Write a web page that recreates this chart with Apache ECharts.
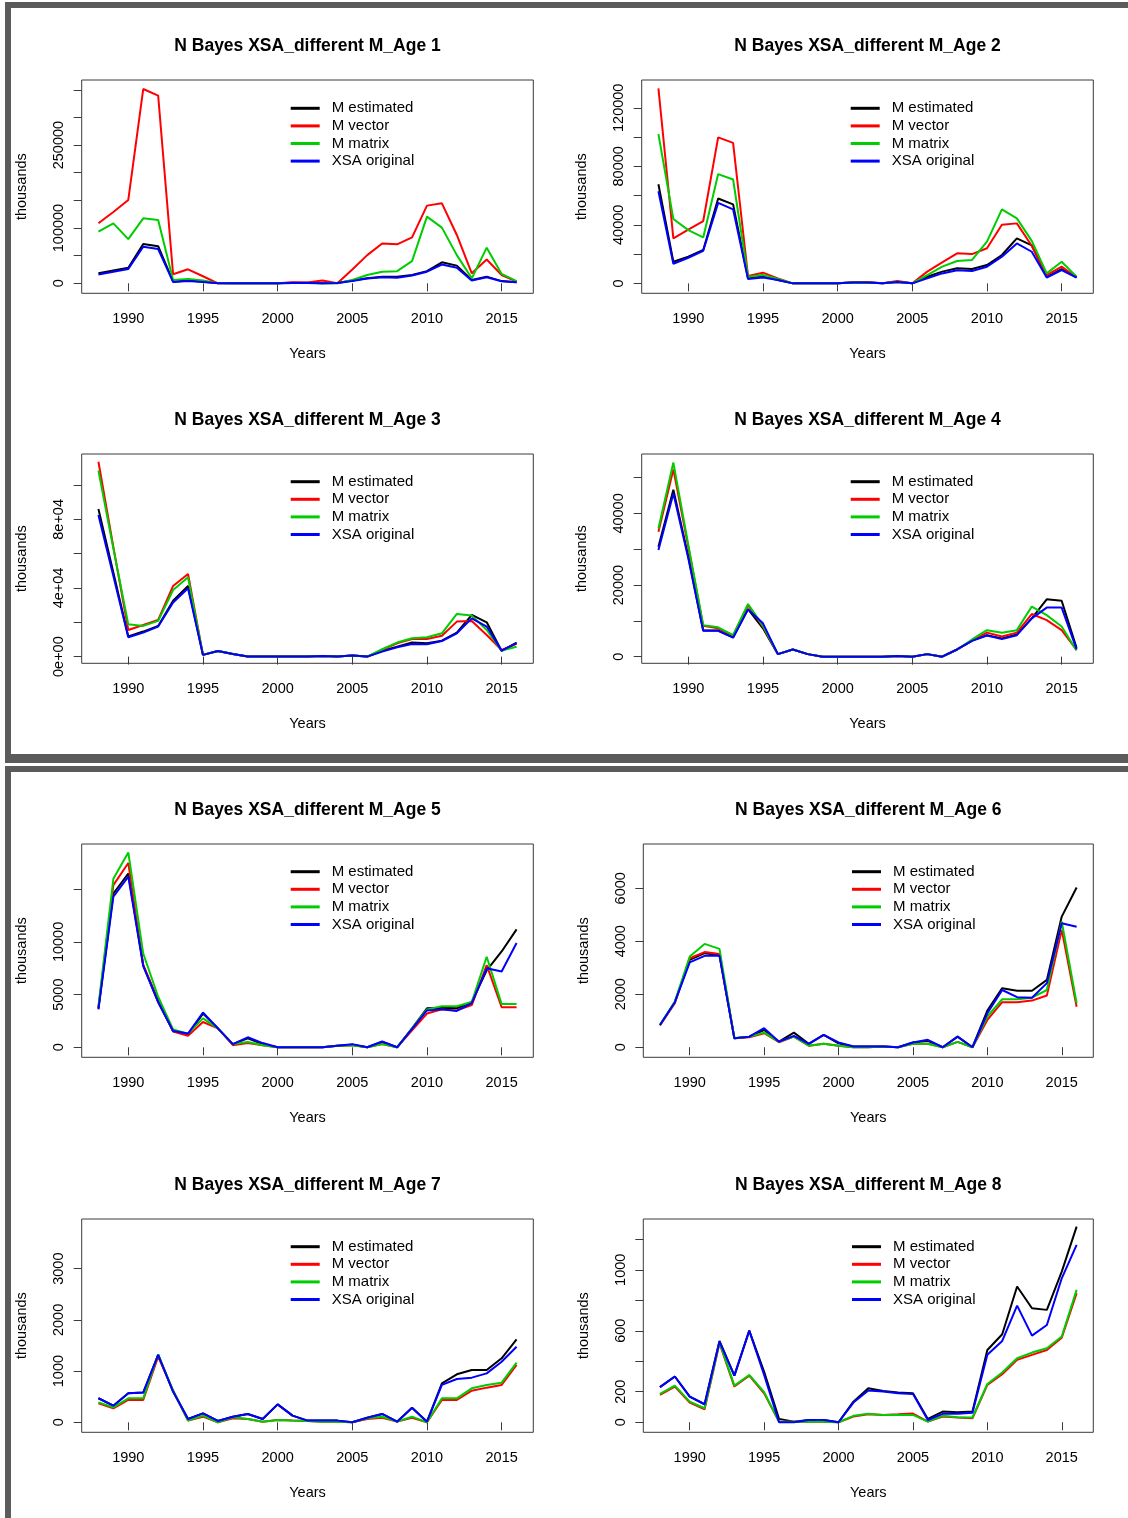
<!DOCTYPE html>
<html><head><meta charset="utf-8">
<script src="https://cdn.jsdelivr.net/npm/echarts@6/dist/echarts.min.js"></script>
<style>html,body{margin:0;padding:0;background:#fff}#c{width:1128px;height:1518px}</style>
</head><body><div id="c"></div>
<script>
const years = [1988,1989,1990,1991,1992,1993,1994,1995,1996,1997,1998,1999,2000,2001,2002,2003,2004,2005,2006,2007,2008,2009,2010,2011,2012,2013,2014,2015,2016];
const xTicks = [1990,1995,2000,2005,2010,2015];
const seriesNames = ['M estimated','M vector','M matrix','XSA original'];

// Age 1
const age1_est = [18000,23000,28000,71000,67000,3000,5000,3000,500,0,0,0,0,1000,1000,0,500,5000,9000,12000,12000,15000,22000,38000,32000,6000,12000,4000,2000];
const age1_vec = [108500,129000,150800,351500,339500,16300,25300,12700,0,0,0,0,0,1800,1500,5000,0,25000,51000,72000,70500,83000,140500,144700,87400,18000,43000,15000,3000];
const age1_mat = [93500,108500,80000,117600,114600,6000,8000,5000,0,0,0,0,0,500,500,0,0,6000,15000,21000,22000,40000,120600,100700,51000,9000,64500,17000,4000];
const age1_xsa = [16000,21000,26000,66000,62000,2500,4000,2500,0,0,0,0,0,500,500,0,500,4000,8500,11000,10000,14000,21000,34000,28000,5000,11000,3600,2000];
const age1_ticks = [0,50000,100000,150000,200000,250000,300000,350000];
const age1_labels = ['0','100000','250000'];
const age1_range = [-18100,367800];

// Age 2
const age2_est = [67700,14800,18200,22800,58000,54000,3400,4800,2300,0,0,0,0,500,500,0,1000,0,4500,8000,10300,9800,12500,19400,30800,26000,4500,9800,4000];
const age2_vec = [133300,30800,36700,42600,99800,96000,5000,7300,3400,0,0,0,0,700,1000,0,1600,0,8000,14300,20500,20000,24000,40000,41000,25700,5700,11400,4000];
const age2_mat = [102000,44000,36400,31400,74700,71000,4500,5700,3000,0,0,0,0,500,500,0,1000,0,5700,11400,15300,16000,28500,50600,44400,29000,6800,14800,4500];
const age2_xsa = [63000,13400,17500,22300,55000,50600,3000,4000,2300,0,0,0,0,500,500,0,1000,0,3400,6800,9000,8400,11400,18200,27300,21600,4000,9000,4000];
const age2_ticks = [0,20000,40000,60000,80000,100000,120000];
const age2_labels = ['0','40000','80000','120000'];
const age2_range = [-6800,139000];

// Age 3
const age3_est = [86000,49000,11700,14600,17900,32600,41200,1000,3300,1500,0,0,0,0,0,300,0,600,0,3300,5800,8200,7800,9300,14000,24300,20000,3300,8200];
const age3_vec = [113600,64000,15500,18400,21400,41200,48200,1000,3300,1500,0,0,0,0,0,300,0,600,0,3900,7800,10300,10300,12200,20400,20800,12600,3900,7400];
const age3_mat = [108400,63000,18800,17900,20800,38800,46200,1000,3300,1500,0,0,0,0,0,300,0,600,0,4300,8200,10700,11300,13600,24900,23900,15500,3500,5800];
const age3_xsa = [82500,47000,11300,14000,17500,31500,39800,1000,3300,1500,0,0,0,0,0,300,0,600,0,2900,5400,7400,7200,9100,13600,22300,17500,3500,7800];
const age3_ticks = [0,20000,40000,60000,80000,100000];
const age3_labels = ['0e+00','4e+04','8e+04'];
const age3_range = [-3900,118100];

// Age 4
const age4_est = [30700,46600,28000,7300,7300,5400,13300,7900,700,2000,700,0,0,0,0,0,200,0,700,0,2000,4500,6000,5100,6200,10700,16000,15600,2500];
const age4_vec = [34900,52300,30700,8600,7900,5900,14400,8400,700,2000,700,0,0,0,0,0,200,0,700,0,2000,4500,6700,5600,6700,11900,10200,7400,1900];
const age4_mat = [35800,54200,31200,8800,8200,6000,14700,8600,700,2000,700,0,0,0,0,0,200,0,700,0,2000,4800,7400,6700,7400,14000,11600,8400,1700];
const age4_xsa = [29800,45600,27500,7200,7200,5300,13200,9300,700,2000,700,0,0,0,0,0,200,0,700,0,2000,4400,5900,4900,6000,10700,13700,13700,2100];
const age4_ticks = [0,10000,20000,30000,40000,50000];
const age4_labels = ['0','20000','40000'];
const age4_range = [-1860,56600];

// Age 5
const age5_est = [3700,14600,16500,7800,4300,1550,1200,3200,1800,300,850,300,0,0,0,0,150,250,0,500,0,1800,3700,3750,3700,4300,7300,9100,11200];
const age5_vec = [3700,15400,17500,7800,4500,1500,1100,2400,1800,200,400,200,0,0,0,0,150,200,0,300,0,1600,3200,3600,3500,4000,7800,3800,3800];
const age5_mat = [3900,16000,18500,8900,4800,1700,1300,2750,1800,300,500,200,0,0,0,0,150,200,0,300,0,1800,3600,3900,3900,4300,8600,4100,4100];
const age5_xsa = [3600,14300,16200,7700,4300,1550,1300,3300,1800,300,950,400,0,0,0,0,150,300,0,550,0,1750,3500,3600,3450,4200,7500,7200,9900];
const age5_ticks = [0,5000,10000,15000];
const age5_labels = ['0','5000','10000'];
const age5_range = [-950,19300];

// Age 6
const age6_est = [840,1700,3300,3550,3480,340,400,650,210,550,130,470,150,30,30,30,0,180,240,0,400,0,1380,2230,2130,2130,2540,4930,6030];
const age6_vec = [820,1660,3360,3590,3520,340,380,530,190,400,60,130,60,0,0,30,0,130,130,0,200,0,1030,1700,1700,1760,1950,4430,1530];
const age6_mat = [840,1720,3420,3900,3710,340,400,550,210,400,60,130,60,0,0,30,0,130,130,0,200,0,1160,1810,1810,1870,2160,4740,1660];
const age6_xsa = [840,1700,3200,3450,3450,340,400,720,210,430,130,470,180,30,30,30,0,180,280,0,400,0,1280,2160,1890,1870,2420,4680,4550];
const age6_ticks = [0,2000,4000,6000];
const age6_labels = ['0','2000','4000','6000'];
const age6_range = [-380,7670];

// Age 7
const age7_est = [470,325,566,580,1315,600,65,175,26,110,163,65,350,130,33,33,33,0,90,163,13,286,13,760,937,1021,1021,1250,1620];
const age7_vec = [370,273,436,436,1282,620,33,110,0,78,65,13,46,33,26,13,13,0,65,90,13,90,0,436,436,618,677,729,1120];
const age7_mat = [390,293,468,468,1327,620,33,130,0,98,65,13,46,33,26,13,13,0,78,110,13,110,0,468,468,664,729,774,1165];
const age7_xsa = [470,325,566,580,1315,600,65,175,26,110,163,65,350,130,33,33,33,0,90,163,13,286,13,730,846,872,956,1184,1477];
const age7_ticks = [0,1000,2000,3000];
const age7_labels = ['0','1000','2000','3000'];
const age7_range = [-195,3970];

// Age 8
const age8_est = [230,300,168,118,533,306,601,330,22,4,15,15,0,135,223,205,195,190,22,70,66,70,474,577,890,748,737,988,1283];
const age8_vec = [179,234,129,85,518,234,306,190,4,4,4,4,0,37,52,48,52,57,4,37,31,26,245,315,409,442,474,555,846];
const age8_mat = [186,240,135,92,525,240,310,197,4,4,4,4,0,42,55,48,48,48,4,42,33,31,251,326,420,457,485,562,868];
const age8_xsa = [230,300,168,118,529,306,601,310,0,0,15,15,0,129,208,201,190,186,15,55,55,63,442,533,765,568,638,944,1163];
const age8_ticks = [0,200,400,600,800,1000,1200];
const age8_labels = ['0','200','600','1000'];
const age8_range = [-66,1333];

const panelData = [
  {age:1, s:[age1_est,age1_vec,age1_mat,age1_xsa], ticks:age1_ticks, labels:age1_labels, range:age1_range},
  {age:2, s:[age2_est,age2_vec,age2_mat,age2_xsa], ticks:age2_ticks, labels:age2_labels, range:age2_range},
  {age:3, s:[age3_est,age3_vec,age3_mat,age3_xsa], ticks:age3_ticks, labels:age3_labels, range:age3_range},
  {age:4, s:[age4_est,age4_vec,age4_mat,age4_xsa], ticks:age4_ticks, labels:age4_labels, range:age4_range},
  {age:5, s:[age5_est,age5_vec,age5_mat,age5_xsa], ticks:age5_ticks, labels:age5_labels, range:age5_range},
  {age:6, s:[age6_est,age6_vec,age6_mat,age6_xsa], ticks:age6_ticks, labels:age6_labels, range:age6_range},
  {age:7, s:[age7_est,age7_vec,age7_mat,age7_xsa], ticks:age7_ticks, labels:age7_labels, range:age7_range},
  {age:8, s:[age8_est,age8_vec,age8_mat,age8_xsa], ticks:age8_ticks, labels:age8_labels, range:age8_range}
];

// layout (pixels)
const boxes = [
  [81.7,80,451.6,213.3],[641.7,80,451.6,213.3],
  [81.7,454,451.6,209.3],[641.7,454,451.6,209.3],
  [81.7,844,451.6,213.3],[643.3,844,450,213.3],
  [81.7,1219,451.6,213.3],[643.3,1219,450,213.3]
];
const legendPos = [
  [290.7,100.8],[850.7,100.8],[290.7,474.2],[850.7,474.2],
  [290.7,864.2],[852,864.2],[290.7,1239.2],[852,1239.2]
];
const colors = ['#000000','#FF0000','#00CD00','#0000FF'];
const FONT = '"Liberation Sans", Arial, Helvetica, sans-serif';

const grid=[], xAxis=[], yAxis=[], series=[], title=[], legend=[];
panelData.forEach((p,i)=>{
  const b = boxes[i];
  grid.push({left:b[0], top:b[1], width:b[2], height:b[3], show:true, borderColor:'#3a3a3a', borderWidth:1, backgroundColor:'transparent'});
  xAxis.push({
    type:'value', gridIndex:i, min:1986.88, max:2017.12,
    name:'Years', nameLocation:'middle', nameGap:53.5,
    nameTextStyle:{fontSize:14.5, color:'#000', fontFamily:FONT},
    axisLine:{show:false}, splitLine:{show:false},
    axisTick:{show:true, length:8, lineStyle:{color:'#3a3a3a'}, customValues:xTicks},
    axisLabel:{show:true, margin:18.5, fontSize:14.5, color:'#000', fontFamily:FONT, customValues:xTicks, formatter:v=>String(v)}
  });
  const labVals = p.labels.map(t=>Number(t));
  yAxis.push({
    type:'value', gridIndex:i, min:p.range[0], max:p.range[1],
    name:'thousands', nameLocation:'middle', nameGap:52,
    nameTextStyle:{fontSize:14.5, color:'#000', fontFamily:FONT},
    axisLine:{show:false}, splitLine:{show:false},
    axisTick:{show:true, length:8, lineStyle:{color:'#3a3a3a'}, customValues:p.ticks},
    axisLabel:{show:true, rotate:90, margin:15, fontSize:14.5, color:'#000', fontFamily:FONT,
      customValues:labVals,
      formatter:v=>{const k=labVals.indexOf(v); return k>=0?p.labels[k]:'';}}
  });
  p.s.forEach((arr,j)=>{
    series.push({
      type:'line', name:seriesNames[j], xAxisIndex:i, yAxisIndex:i,
      data: years.map((y,k)=>[y,arr[k]]),
      showSymbol:false, symbol:'none', silent:true,
      lineStyle:{color:colors[j], width:2}, itemStyle:{color:colors[j]},
      z: 2+j
    });
  });
  title.push({
    text:'N Bayes XSA_different M_Age '+p.age,
    left:b[0]+b[2]/2, top:b[1]-43, textAlign:'center', padding:0,
    textStyle:{fontSize:17.5, fontWeight:'bold', color:'#000', fontFamily:FONT}
  });
  legend.push({
    show:true, orient:'vertical', left:legendPos[i][0], top:legendPos[i][1], padding:0,
    itemWidth:29, itemHeight:3, itemGap:2.6, icon:'rect', selectedMode:false,
    data:seriesNames,
    textStyle:{fontSize:15, lineHeight:15, color:'#000', fontFamily:FONT, padding:[0,0,0,7]}
  });
});

const frameColor = '#5b5b5b';
const graphic = [
  {type:'rect', shape:{x:5,y:2,width:1123,height:6}, style:{fill:frameColor}, silent:true},
  {type:'rect', shape:{x:5,y:2,width:6,height:761}, style:{fill:frameColor}, silent:true},
  {type:'rect', shape:{x:5,y:754,width:1123,height:9}, style:{fill:frameColor}, silent:true},
  {type:'rect', shape:{x:5,y:766,width:1123,height:6}, style:{fill:frameColor}, silent:true},
  {type:'rect', shape:{x:5,y:766,width:6,height:752}, style:{fill:frameColor}, silent:true}
];

const chart = echarts.init(document.getElementById('c'), null, {renderer:'canvas'});
chart.setOption({
  animation:false, backgroundColor:'#ffffff',
  textStyle:{fontFamily:FONT},
  grid, xAxis, yAxis, series, title, legend, graphic
});
</script></body></html>
